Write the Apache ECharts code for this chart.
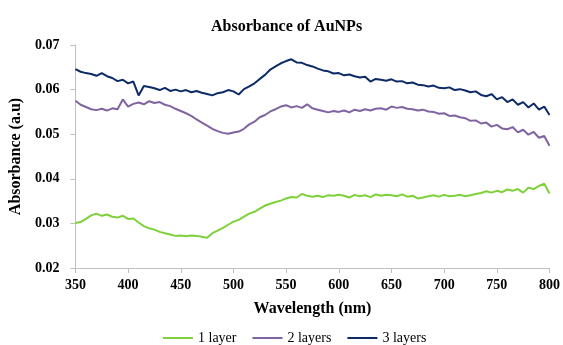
<!DOCTYPE html>
<html>
<head>
<meta charset="utf-8">
<script src="https://cdn.jsdelivr.net/npm/echarts@6/dist/echarts.min.js"></script>
<style>
html,body{margin:0;padding:0;background:#fff;}
#chart{width:563px;height:345px;}
</style>
</head>
<body>
<div id="chart"></div>
<script>
var wavelengths = [];
for (var w = 350; w <= 800; w += 5) wavelengths.push(w);

var layer1 = [
0.0301,0.0303,0.0310,0.0318,0.0322,0.0317,0.0320,0.0315,0.0313,0.0317,
0.0310,0.0311,0.0302,0.0294,0.0289,0.0286,0.0281,0.0278,0.0275,0.0272,
0.0273,0.0271,0.0273,0.0272,0.0270,0.0268,0.0278,0.0284,0.0290,0.0297,
0.0304,0.0308,0.0315,0.0322,0.0326,0.0333,0.0340,0.0344,0.0348,0.0351,
0.0356,0.0359,0.0358,0.0366,0.0362,0.0360,0.0362,0.0359,0.0363,0.0362,
0.0364,0.0362,0.0358,0.0364,0.0361,0.0363,0.0359,0.0365,0.0362,0.0364,
0.0363,0.0361,0.0365,0.0360,0.0362,0.0356,0.0358,0.0361,0.0363,0.0360,
0.0364,0.0361,0.0362,0.0364,0.0361,0.0363,0.0366,0.0368,0.0372,0.0369,
0.0373,0.0370,0.0376,0.0373,0.0377,0.0369,0.0380,0.0377,0.0384,0.0389,
0.0367];

var layer2 = [
0.0575,0.0566,0.0561,0.0556,0.0554,0.0557,0.0553,0.0558,0.0556,0.0578,
0.0562,0.0568,0.0571,0.0567,0.0574,0.0570,0.0572,0.0566,0.0563,0.0557,
0.0552,0.0547,0.0541,0.0533,0.0526,0.0519,0.0512,0.0507,0.0503,0.0501,
0.0504,0.0506,0.0512,0.0522,0.0528,0.0538,0.0543,0.0551,0.0556,0.0562,
0.0565,0.0560,0.0563,0.0559,0.0567,0.0558,0.0555,0.0552,0.0549,0.0552,
0.0550,0.0553,0.0549,0.0555,0.0552,0.0556,0.0553,0.0557,0.0558,0.0555,
0.0562,0.0559,0.0561,0.0557,0.0556,0.0553,0.0555,0.0551,0.0550,0.0546,
0.0547,0.0541,0.0542,0.0538,0.0536,0.0530,0.0531,0.0524,0.0526,0.0517,
0.0521,0.0513,0.0511,0.0516,0.0504,0.0510,0.0499,0.0505,0.0492,0.0496,
0.0474];

var layer3 = [
0.0646,0.0640,0.0637,0.0635,0.0631,0.0637,0.0630,0.0626,0.0619,0.0622,
0.0614,0.0618,0.0587,0.0608,0.0606,0.0603,0.0599,0.0604,0.0597,0.0600,
0.0596,0.0599,0.0594,0.0597,0.0593,0.0590,0.0587,0.0592,0.0594,0.0599,
0.0596,0.0589,0.0601,0.0607,0.0614,0.0624,0.0633,0.0645,0.0652,0.0659,
0.0664,0.0668,0.0661,0.0660,0.0655,0.0652,0.0647,0.0643,0.0641,0.0636,
0.0637,0.0632,0.0634,0.0630,0.0627,0.0629,0.0618,0.0624,0.0622,0.0620,
0.0623,0.0618,0.0619,0.0614,0.0616,0.0611,0.0610,0.0607,0.0609,0.0604,
0.0603,0.0605,0.0599,0.0601,0.0598,0.0594,0.0596,0.0588,0.0585,0.0590,
0.0578,0.0583,0.0572,0.0578,0.0566,0.0572,0.0560,0.0569,0.0555,0.0562,
0.0543];

var seriesNames = ['1 layer', '2 layers', '3 layers'];
var seriesData = [layer1, layer2, layer3];
var colors = ['#7dd13a', '#8064a2', '#0c2a66'];

function pairs(arr) {
  return arr.map(function (v, i) { return [wavelengths[i], v]; });
}

var font = '"Liberation Serif","Times New Roman",serif';
var chart = echarts.init(document.getElementById('chart'), null, {renderer: 'canvas'});
chart.setOption({
  animation: false,
  backgroundColor: '#fff',
  color: colors,
  title: {
    text: 'Absorbance of AuNPs',
    left: 206,
    top: 14,
    textStyle: {fontFamily: font, fontSize: 16, fontWeight: 'bold', color: '#000'}
  },
  legend: {
    top: 331,
    left: 163,
    padding: 0,
    icon: 'rect',
    itemWidth: 30,
    itemHeight: 2,
    itemGap: 16,
    textStyle: {fontFamily: font, fontSize: 14, color: '#000'},
    data: seriesNames
  },
  grid: {left: 74, right: 12, top: 45, bottom: 77},
  xAxis: {
    type: 'value',
    min: 350, max: 800, interval: 50,
    name: 'Wavelength (nm)',
    nameLocation: 'middle',
    nameGap: 33,
    nameTextStyle: {fontFamily: font, fontSize: 16, fontWeight: 'bold', color: '#000'},
    axisLine: {lineStyle: {color: '#bfbfbf', width: 1}},
    axisTick: {show: true, length: 5, lineStyle: {color: '#bfbfbf'}},
    axisLabel: {fontFamily: font, fontSize: 14, fontWeight: 'bold', color: '#000', margin: 10},
    splitLine: {show: false}
  },
  yAxis: {
    type: 'value',
    min: 0.02, max: 0.07, interval: 0.01,
    name: 'Absorbance (a.u)',
    nameLocation: 'middle',
    nameGap: 48,
    nameTextStyle: {fontFamily: font, fontSize: 16, fontWeight: 'bold', color: '#000'},
    axisLine: {show: true, lineStyle: {color: '#bfbfbf', width: 1}},
    axisTick: {show: true, length: 5, lineStyle: {color: '#bfbfbf'}},
    axisLabel: {fontFamily: font, fontSize: 14, fontWeight: 'bold', color: '#000', margin: 16,
      formatter: function (v) { return v.toFixed(2); }},
    splitLine: {show: false}
  },
  series: seriesNames.map(function (n, i) {
    return {
      name: n,
      type: 'line',
      showSymbol: false,
      symbol: 'none',
      data: pairs(seriesData[i]),
      lineStyle: {width: 2, color: colors[i]},
      itemStyle: {color: colors[i]}
    };
  })
});
</script>
</body>
</html>
